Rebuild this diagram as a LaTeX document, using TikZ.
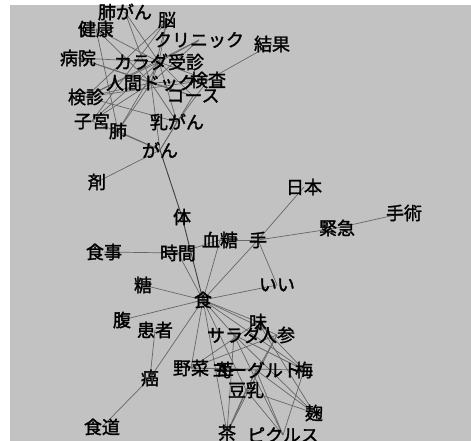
\documentclass[tikz,border=0pt]{standalone}
\usepackage{fontspec}
\newfontfamily\cjk[FakeBold=1.6]{Noto Sans CJK JP}
\usetikzlibrary{backgrounds}
\tikzset{
  w/.style={font=\cjk\fontsize{18}{18}\selectfont, inner sep=0pt, text=black},
  lnk/.style={draw=black!60, line width=0.7pt},
  main/.style={draw=black!75, line width=0.9pt},
}
\begin{document}
\begin{tikzpicture}[x=1pt,y=-1pt]
\useasboundingbox (0,0) rectangle (471,441);
% top cluster
\node[w] (A) at (125,12) {肺がん};
\node[w] (B) at (96,29) {健康};
\node[w] (C) at (167,20) {脳};
\node[w] (D) at (199,40) {クリニック};
\node[w] (E) at (272,44) {結果};
\node[w] (F) at (78,58) {病院};
\node[w] (G) at (159,62) {カラダ受診};
\node[w] (H) at (208,80) {検査};
\node[w] (I) at (151,83) {人間ドック};
\node[w] (J) at (193,96) {コース};
\node[w] (K) at (86,97) {検診};
\node[w] (L) at (92,121) {子宮};
\node[w] (M) at (118,131) {肺};
\node[w] (N) at (177,122) {乳がん};
\node[w] (O) at (160,150) {がん};
\node[w] (P) at (97,182) {剤};
% middle
\node[w] (tai) at (182,217) {体};
\node[w] (nihon) at (304,187) {日本};
\node[w] (shujutsu) at (404,213) {手術};
\node[w] (kinkyu) at (337,228) {緊急};
\node[w] (kettou) at (220,240) {血糖};
\node[w] (te) at (258,240) {手};
\node[w] (shokuji) at (104,252) {食事};
\node[w] (jikan) at (178,253) {時間};
\node[w] (tou) at (143,285) {糖};
\node[w] (ii) at (277,285) {いい};
\node[w] (shoku) at (203,300) {食};
\node[w] (hara) at (122,320) {腹};
\node[w] (kanja) at (155,330) {患者};
\node[w] (aji) at (258,322) {味};
\node[w] (salad) at (234,335) {サラダ};
\node[w] (ninjin) at (277,335) {人参};
% bottom
\node[w] (yasai) at (191,368) {野菜};
\node[w] (ichigo) at (225,370) {苺};
\node[w] (yog) at (256,370) {ヨーグルト};
\node[w] (ume) at (304,370) {梅};
\node[w] (tonyu) at (246,390) {豆乳};
\node[w] (koji) at (314,413) {麹};
\node[w] (cha) at (227,433) {茶};
\node[w] (pickles) at (283,435) {ピクルス};
\node[w] (gan2) at (150,378) {癌};
\node[w] (shokudo) at (102,427) {食道};
\begin{scope}[on background layer]
\fill[white] (0,0) rectangle (471,441);
\fill[black!24] (10,5) rectangle (471,441);
\foreach \a/\b in {A/G,A/I,B/G,B/I,B/M,C/I,C/K,C/G,C/L,D/I,D/K,D/G,E/H,F/G,F/I,F/J,G/I,G/K,G/H,G/J,H/I,H/K,H/N,I/J,I/K,I/L,I/M,I/N,I/O,J/O,L/O,M/O,N/O,L/G,M/G,N/G,K/N,P/O,
  shokuji/jikan,jikan/kettou,kettou/te,te/nihon,te/kinkyu,kinkyu/shujutsu,te/ii,te/shoku,kettou/shoku,jikan/shoku,tou/shoku,ii/shoku,hara/shoku,shoku/gan2,kanja/gan2,gan2/shokudo,
  shoku/yasai,shoku/cha,shoku/salad,shoku/aji,shoku/ninjin,shoku/ume,shoku/tonyu,
  aji/yasai,salad/ume,salad/koji,salad/pickles,ninjin/yasai,ninjin/tonyu,ninjin/cha,ume/aji,ume/yasai,ume/pickles,koji/tonyu,koji/yog,koji/aji,cha/tonyu,cha/yog,pickles/tonyu,pickles/yog,yasai/yog,salad/cha}
  \draw[lnk] (\a.center) -- (\b.center);
\draw[main] (O.center) -- (tai.center);
\draw[main] (tai.center) -- (shoku.center);
\end{scope}
\end{tikzpicture}
\end{document}
